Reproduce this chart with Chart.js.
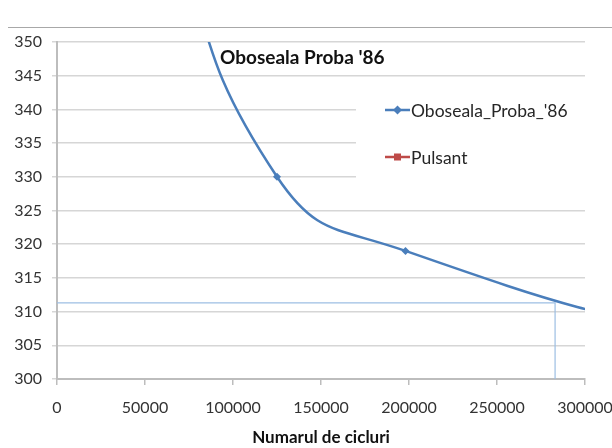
<!DOCTYPE html>
<html>
<head>
<meta charset="utf-8">
<script src="https://cdn.jsdelivr.net/npm/chart.js@4.4.1/dist/chart.umd.min.js"></script>
<style>
    html, body { margin: 0; padding: 0; background: #fff; }
    #wrap { width: 612px; height: 448px; }
</style>
</head>
<body>
<div id="wrap"><canvas id="oboseala" width="612" height="448"></canvas></div>
<script>
// Oboseala_Proba_'86 (first point and last two lie outside the axes, only shape the curve)
const cicluri = [55000, 125000, 198000, 400000, 500000];
const tensiune = [375, 330, 319, 305, 304];

// Pulsant has no visible points
const pulsantCicluri = [];
const pulsantTensiune = [];

// thin guide: across at 311.3 up to 283000 cycles, then down to the axis
const ghidCicluri = [0, 283000, 283000];
const ghidTensiune = [311.3, 311.3, 300];

const xTicks = [0, 50000, 100000, 150000, 200000, 250000, 300000];
const yTicks = [300, 305, 310, 315, 320, 325, 330, 335, 340, 345, 350];

const FONT = 'Lato, "Open Sans", sans-serif';
const BLUE = '#4a7ebb';
const RED = '#be4b48';

const toPoints = (xs, ys) => xs.map((x, i) => ({ x: x, y: ys[i] }));

// Title, frame line and legend drawn over the plot like in the original
const decor = {
    id: 'decor',
    afterDraw(chart) {
        const ctx = chart.ctx;
        ctx.save();

        // top edge of the chart frame
        ctx.strokeStyle = '#a8a8a8';
        ctx.lineWidth = 1;
        ctx.beginPath();
        ctx.moveTo(8, 27.5);
        ctx.lineTo(612, 27.5);
        ctx.stroke();

        // chart title
        ctx.font = 'bold 19px ' + FONT;
        ctx.fillStyle = '#111';
        ctx.textAlign = 'left';
        ctx.textBaseline = 'middle';
        ctx.fillText("Oboseala Proba '86", 220, 58);

        // legend box
        ctx.fillStyle = '#fff';
        ctx.fillRect(356, 92, 232, 100);

        const items = [
            { ds: chart.data.datasets[0], y: 110 },
            { ds: chart.data.datasets[1], y: 157 }
        ];
        items.forEach(it => {
            ctx.strokeStyle = it.ds.borderColor;
            ctx.lineWidth = 2.5;
            ctx.beginPath();
            ctx.moveTo(385, it.y);
            ctx.lineTo(410, it.y);
            ctx.stroke();
            ctx.fillStyle = it.ds.borderColor;
            if (it.ds.pointStyle === 'rect') {
                ctx.fillRect(394, it.y - 3.5, 7, 7);
            } else {
                ctx.beginPath();
                ctx.moveTo(397.5, it.y - 4.5);
                ctx.lineTo(402, it.y);
                ctx.lineTo(397.5, it.y + 4.5);
                ctx.lineTo(393, it.y);
                ctx.closePath();
                ctx.fill();
            }
            ctx.font = '17.5px ' + FONT;
            ctx.fillStyle = '#262626';
            ctx.fillText(it.ds.label, 411, it.y + 1);
        });

        ctx.restore();
    }
};

new Chart(document.getElementById('oboseala').getContext('2d'), {
    type: 'scatter',
    data: {
        datasets: [{
            label: "Oboseala_Proba_'86",
            data: toPoints(cicluri, tensiune),
            showLine: true,
            borderColor: BLUE,
            backgroundColor: BLUE,
            borderWidth: 2.5,
            tension: 0.5,
            pointStyle: 'rectRot',
            pointRadius: 4,
            pointBorderWidth: 0
        }, {
            label: 'Pulsant',
            data: toPoints(pulsantCicluri, pulsantTensiune),
            showLine: true,
            borderColor: RED,
            backgroundColor: RED,
            pointStyle: 'rect'
        }, {
            label: 'ghid',
            data: toPoints(ghidCicluri, ghidTensiune),
            showLine: true,
            borderColor: '#9dbfe3',
            borderWidth: 1.2,
            tension: 0,
            pointRadius: 0
        }]
    },
    options: {
        responsive: false,
        animation: false,
        devicePixelRatio: 1,
        layout: { padding: { top: 42, right: 27, left: 0, bottom: 0 } },
        elements: { line: { capBezierPoints: false } },
        plugins: {
            legend: { display: false },
            tooltip: { enabled: false }
        },
        scales: {
            x: {
                type: 'linear',
                min: 0,
                max: 300000,
                afterBuildTicks: s => { s.ticks = xTicks.map(v => ({ value: v })); },
                afterFit: s => {
                    s.height = 69;
                    s.paddingLeft = 0;
                    s.paddingRight = 0;
                },
                ticks: {
                    callback: v => String(v),
                    font: { family: FONT, size: 16 },
                    color: '#333',
                    padding: 13,
                    maxRotation: 0
                },
                grid: {
                    drawOnChartArea: false,
                    tickLength: 6,
                    color: '#bdbdbd',
                    lineWidth: 1.5
                },
                border: { color: '#bdbdbd', width: 2 },
                title: {
                    display: true,
                    text: 'Numarul de cicluri',
                    font: { family: FONT, size: 17, weight: 'bold' },
                    color: '#111',
                    padding: { top: 0, bottom: 0 }
                }
            },
            y: {
                min: 300,
                max: 350,
                afterBuildTicks: s => { s.ticks = yTicks.map(v => ({ value: v })); },
                afterFit: s => {
                    s.width = 57;
                    s.paddingTop = 0;
                    s.paddingBottom = 0;
                },
                ticks: {
                    font: { family: FONT, size: 16 },
                    color: '#333',
                    padding: 10
                },
                grid: {
                    color: '#d6d6d6',
                    lineWidth: 1.5,
                    tickLength: 5
                },
                border: { color: '#bdbdbd', width: 2 }
            }
        }
    },
    plugins: [decor]
});
</script>
</body>
</html>
